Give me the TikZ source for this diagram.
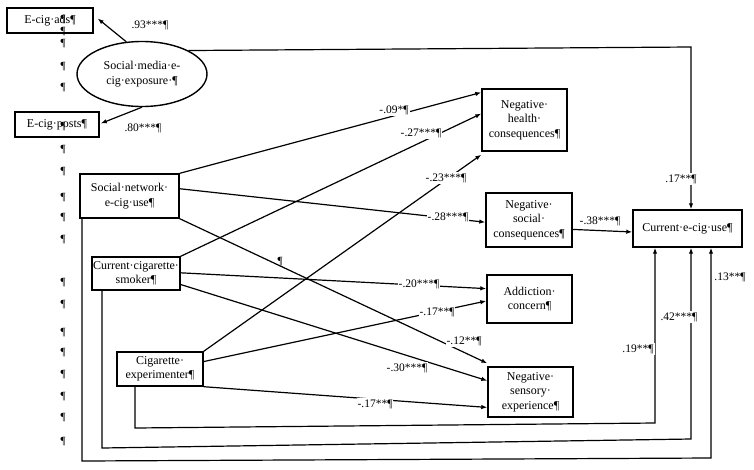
\documentclass[tikz,border=0pt]{standalone}
\usepackage{fontspec}
\setmainfont{Liberation Serif}
\usetikzlibrary{calc,arrows.meta,shapes.geometric}
\begin{document}
\begin{tikzpicture}[x=1pt,y=-1pt,
  box/.style={draw,line width=1.4pt,align=center,inner sep=1pt,font=\fontsize{12}{14.5}\selectfont},
  lbl/.style={fill=white,inner sep=1pt,font=\fontsize{11.5}{13}\selectfont},
  pil/.style={inner sep=0pt,font=\fontsize{11}{13}\selectfont},
  arr/.style={line width=1.2pt,-{Latex[length=6pt,width=4.5pt]}}]
\useasboundingbox[fill=white] (0,0) rectangle (754,469);

% left column of pilcrows
\foreach \yy in {20,32,44,67,88,127,150,172,198,218,240,283,305,333,353,375,397,418,442}
  \node[pil] (p\yy) at (63,\yy) {¶};

% nodes
\node[box,minimum width=86pt,minimum height=25pt] (ads) at (50,20.5) {E-cig·ads¶};
\node[box,minimum width=84pt,minimum height=25pt] (posts) at (57,124.5) {E-cig·posts¶};
\node[draw,ellipse,line width=1.4pt,minimum width=130pt,minimum height=65pt,align=center,inner sep=0pt,font=\fontsize{12}{14.5}\selectfont] (sm) at (142,74) {Social·media·e-\\cig·exposure·¶};
\node[box,minimum width=99pt,minimum height=44pt] (sn) at (129.5,196) {Social·network·\\e-cig·use¶};
\node[box,minimum width=84pt,minimum height=33pt] (sk) at (136,273.5) {Current·cigarette·\\smoker¶};
\node[box,minimum width=86pt,minimum height=34pt] (ex) at (160,369) {Cigarette·\\experimenter¶};
\node[box,minimum width=85pt,minimum height=62pt] (health) at (524.5,120) {Negative·\\health·\\consequences¶};
\node[box,minimum width=86pt,minimum height=54pt] (so) at (529,220) {Negative·\\social·\\consequences¶};
\node[box,minimum width=85pt,minimum height=48pt] (ad) at (529.5,299) {Addiction·\\concern¶};
\node[box,minimum width=85pt,minimum height=50pt] (se) at (530.5,392) {Negative·\\sensory·\\experience¶};
\node[box,minimum width=109pt,minimum height=37pt] (ecig) at (687.5,228.5) {Current·e-cig·use¶};
\node[pil] (stray) at (280,262) {¶};

% coordinates for routed lines
\coordinate (c1) at (691,47);
\coordinate (b1) at (135,428);
\coordinate (b2) at (655,423);
\coordinate (b3) at (102,448);
\coordinate (b4) at (691,439);
\coordinate (b5) at (82,461);
\coordinate (b6) at (711,458);

% connectors
\draw[arr] (sm.116) -- ($(ads.east)+(4,-2)$);
\draw[arr] (sm.south) -- ($(posts.east)+(1,-1)$);
\draw[arr] (sm.north east) -- (c1) -- (c1 |- ecig.north);
\draw[arr] (sn.north east) -- ($(health.north west)!0.065!(health.south west)$);
\draw[arr] (sk.north east) -- ($(health.north west)!0.4!(health.south west)$);
\draw[arr] (ex.north east) -- ($(health.south west)+(0,3)$);
\draw[arr] ($(sn.north east)!0.34!(sn.south east)$) -- ($(so.north west)!0.54!(so.south west)$);
\draw[arr] ($(so.north east)!0.67!(so.south east)$) -- ($(ecig.north west)!0.59!(ecig.south west)$);
\draw[arr] ($(sk.north east)!0.48!(sk.south east)$) -- ($(ad.north west)!0.29!(ad.south west)$);
\draw[arr] ($(ex.north east)!0.29!(ex.south east)$) -- ($(ad.north west)!0.54!(ad.south west)$);
\draw[arr] (sn.south east) -- ($(se.north west)+(0,-3)$);
\draw[arr] ($(sk.north east)!0.82!(sk.south east)$) -- ($(se.north west)!0.28!(se.south west)$);
\draw[arr] (ex.south east) -- ($(se.north west)!0.8!(se.south west)$);
\draw[arr] (ex.south -| b1) -- (b1) -- (b2) -- (b2 |- ecig.south);
\draw[arr] (sk.south -| b3) -- (b3) -- (b4) -- (b4 |- ecig.south);
\draw[arr] (sn.south -| b5) -- (b5) -- (b6) -- (b6 |- ecig.south);

% labels
\node[lbl] (l1) at (150,25) {.93***¶};
\node[lbl] (l2) at (143,128) {.80***¶};
\node[lbl] (l3) at (394,110) {-.09*¶};
\node[lbl] (l4) at (421,133) {-.27***¶};
\node[lbl] (l5) at (446,178) {-.23***¶};
\node[lbl] (l6) at (448,217) {-.28***¶};
\node[lbl] (l7) at (600,221) {-.38***¶};
\node[lbl] (l8) at (681,179) {.17**¶};
\node[lbl] (l9) at (419,284) {-.20***¶};
\node[lbl] (l10) at (437,312) {-.17**¶};
\node[lbl] (l11) at (464,341) {-.12**¶};
\node[lbl] (l12) at (407,368) {-.30***¶};
\node[lbl] (l13) at (375,404) {-.17**¶};
\node[lbl] (l14) at (638,349) {.19**¶};
\node[lbl] (l15) at (679,317) {.42***¶};
\node[lbl] (l16) at (730,277) {.13**¶};
\end{tikzpicture}
\end{document}
